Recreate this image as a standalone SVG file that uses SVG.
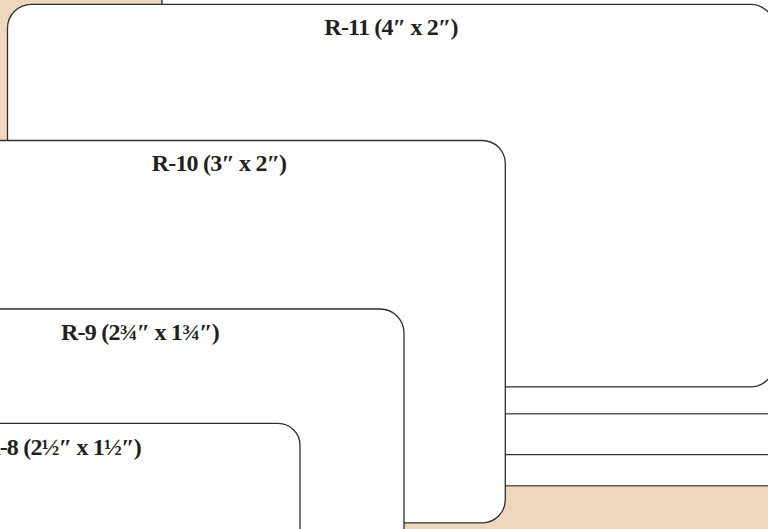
<svg xmlns="http://www.w3.org/2000/svg" width="768" height="529" viewBox="0 0 768 529">
<style>
.card{fill:#ffffff;stroke:#2f2f2f;stroke-width:1.3}
.outer{fill:#ffffff;stroke:#5e5a58;stroke-width:1.5}
.lbl{font-family:"Liberation Serif","Times New Roman",serif;font-weight:bold;font-size:24px;fill:#231f20;text-anchor:middle;letter-spacing:-0.8px}
</style>
<rect x="0" y="0" width="768" height="529" fill="#eed7bd"/>
<g id="outer-cards">
<rect class="outer" x="162" y="-600" width="700" height="1085.7" rx="24"/>
<rect class="card" x="162" y="-600" width="700" height="1054.7" rx="24"/>
<rect class="outer" x="162" y="-600" width="700" height="1013.7" rx="24"/>
</g>
<g id="r11">
<rect class="card" x="7.5" y="4.3" width="767" height="382.5" rx="24"/>
<text class="lbl" x="391" y="34.5">R-11 (4″ x 2″)</text>
</g>
<g id="r10">
<rect class="card" x="-65" y="140.5" width="570.3" height="382.3" rx="23"/>
<text class="lbl" x="219" y="171">R-10 (3″ x 2″)</text>
</g>
<g id="r9">
<rect class="card" x="-119" y="309" width="523" height="333" rx="24"/>
<text class="lbl" x="140" y="339.5">R-9 (2¾″ x 1¾″)</text>
</g>
<g id="r8">
<rect class="card" x="-175" y="423.3" width="475" height="285" rx="22"/>
<text class="lbl" x="62" y="454.5">R-8 (2½″ x 1½″)</text>
</g>
</svg>
